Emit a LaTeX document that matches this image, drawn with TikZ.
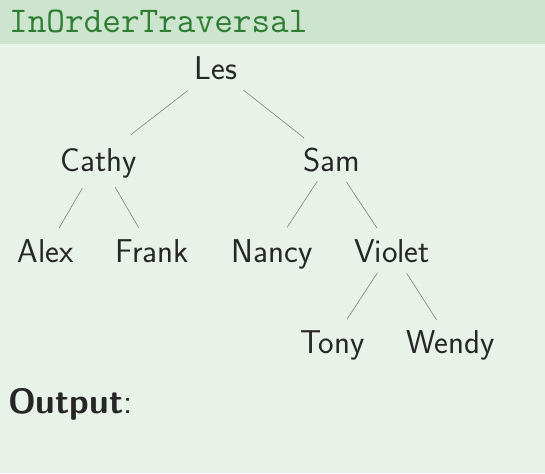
\documentclass[tikz,border=0pt]{standalone}
\usepackage{fontspec}
\definecolor{bgc}{RGB}{232,242,233}
\definecolor{barc}{RGB}{205,228,206}
\definecolor{titc}{RGB}{46,125,50}
\definecolor{edgec}{RGB}{125,130,125}
\begin{document}
\begin{tikzpicture}[x=1pt,y=-1pt,
  tname/.style={font=\sffamily\fontsize{33}{38}\selectfont, inner sep=0pt, text height=23pt, text depth=0pt, anchor=center, text=black!85},
  ttl/.style={font=\ttfamily\fontsize{36.2}{40}\selectfont, inner sep=0pt, text=titc},
  outp/.style={font=\sffamily\fontsize{35}{40}\selectfont, inner sep=0pt, text=black!85},
  edge/.style={draw=edgec, line width=0.6pt}]
\fill[bgc] (0,0) rectangle (545,473);
\fill[barc] (0,0) rectangle (545,44);
\useasboundingbox (0,0) rectangle (545,473);
\node[ttl, anchor=base west] (title) at (9,33) {InOrderTraversal};
\node[tname] (les) at (216,68.5) {Les};
\node[tname] (cathy) at (99,159.5) {Cathy};
\node[tname] (sam) at (331.5,159.5) {Sam};
\node[tname] (alex) at (46,250.5) {Alex};
\node[tname] (frank) at (152,250.5) {Frank};
\node[tname] (nancy) at (272,250.5) {Nancy};
\node[tname] (violet) at (392,250.5) {Violet};
\node[tname] (tony) at (332.5,341.5) {Tony};
\node[tname] (wendy) at (450.5,341.5) {Wendy};
\draw[edge, shorten <=36pt, shorten >=40pt] (les.center) -- (cathy.center);
\draw[edge, shorten <=35pt, shorten >=35pt] (les.center) -- (sam.center);
\draw[edge, shorten <=33pt, shorten >=26pt] (cathy.center) -- (alex.center);
\draw[edge, shorten <=32pt, shorten >=26.5pt] (cathy.center) -- (frank.center);
\draw[edge, shorten <=26pt, shorten >=27.5pt] (sam.center) -- (nancy.center);
\draw[edge, shorten <=27pt, shorten >=27pt] (sam.center) -- (violet.center);
\draw[edge, shorten <=26.5pt, shorten >=26.5pt] (violet.center) -- (tony.center);
\draw[edge, shorten <=27pt, shorten >=26pt] (violet.center) -- (wendy.center);
\node[outp, anchor=base west] (out) at (8,413) {\textbf{Output}:};
\end{tikzpicture}
\end{document}
